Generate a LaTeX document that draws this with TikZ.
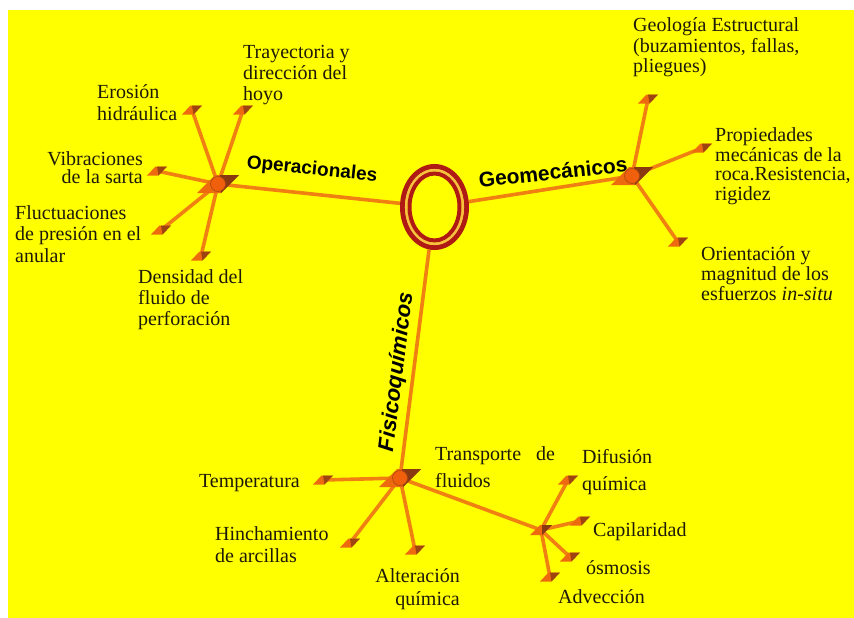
\documentclass[tikz,border=0pt]{standalone}
\usepackage{fontspec}
\setmainfont{Liberation Serif}
\newfontfamily\labfont{Liberation Sans}
\usetikzlibrary{shapes.geometric}
\definecolor{bgyellow}{HTML}{FFFF00}
\definecolor{connor}{HTML}{F08012}
\definecolor{hubor}{HTML}{EE6A0E}
\definecolor{hubdk}{HTML}{8A3A10}
\definecolor{ringred}{HTML}{B01A14}
\definecolor{ringlt}{HTML}{F6C040}
\definecolor{txt}{HTML}{1E1A0A}
\tikzset{
  conn/.style={draw=connor, line width=3.6pt},
  leaf/.style={inner sep=0pt, text=txt, font=\fontsize{20}{#1}\selectfont},
  leaf/.default=21,
  branch/.style={inner sep=0pt, text=black, font=\labfont\bfseries\fontsize{#1}{#1}\selectfont},
  hubpic/.pic={
    \fill[hubor] (-21,9) -- (-3,-9) -- (21,-9) -- (3,9) -- cycle;
    \fill[hubdk] (2,-9) -- (21,-9) -- (3,9) -- cycle;
    \fill[hubor!90!red, draw=hubdk!70!hubor, line width=0.6pt] (0,0) circle[radius=7.5pt];
  },
  subhubpic/.pic={
    \fill[hubor] (-11,5) -- (-1,-5) -- (11,-5) -- (1,5) -- cycle;
    \fill[hubdk] (1,-5) -- (11,-5) -- (1,5) -- cycle;
  },
  leafmark/.pic={
    \fill[hubor] (-10,4.5) -- (-1.5,-4.5) -- (10,-4.5) -- (1.5,4.5) -- cycle;
    \fill[hubdk!80!hubor] (0,-4.5) -- (10,-4.5) -- (1.5,4.5) -- cycle;
  }
}
\begin{document}
\begin{tikzpicture}[x=1pt,y=-1pt]
\useasboundingbox (0,0) rectangle (854,618);
\fill[white] (0,0) rectangle (854,618);
\fill[bgyellow] (8,10) rectangle (854,618);
% hubs
\coordinate (hO) at (218,184);
\coordinate (hG) at (632,176);
\coordinate (hF) at (400,478);
\coordinate (hT) at (541,530);
% leaf markers
\coordinate (ero) at (192,110);
\coordinate (tray) at (243,110);
\coordinate (vib) at (157,171);
\coordinate (fluc) at (161,230);
\coordinate (dens) at (201,256);
\coordinate (geol) at (648,99);
\coordinate (prop) at (702,148);
\coordinate (orie) at (678,242);
\coordinate (temp) at (323,480);
\coordinate (hinc) at (350,543);
\coordinate (alte) at (415,550);
\coordinate (difu) at (568,480);
\coordinate (capi) at (580,521);
\coordinate (osmo) at (570,557);
\coordinate (adve) at (550,577);
\node[ellipse, minimum width=69pt, minimum height=86pt, inner sep=0pt] (core) at (434.5,207) {};
% connectors
\draw[conn] (hO) -- (core);
\draw[conn] (hG) -- (core);
\draw[conn] (hF) -- (core);
\foreach \t in {ero,tray,vib,fluc,dens} \draw[conn] (hO) -- (\t);
\foreach \t in {geol,prop,orie} \draw[conn] (hG) -- (\t);
\foreach \t in {temp,hinc,alte,hT} \draw[conn] (hF) -- (\t);
\foreach \t in {difu,capi,osmo,adve} \draw[conn] (hT) -- (\t);
% central rings
\draw[ringred, line width=5pt] (core.center) ellipse [x radius=32pt, y radius=40.5pt];
\draw[ringlt, line width=2.5pt] (core.center) ellipse [x radius=28.3pt, y radius=36.8pt];
\draw[ringred, line width=4pt] (core.center) ellipse [x radius=25pt, y radius=33.5pt];
% branch labels
\node[branch=19, rotate=-6] (lblO) at (312,170) {Operacionales};
\node[branch=21, rotate=6] (lblG) at (553,172) {Geomecánicos};
\node[inner sep=0pt, text=black, font=\labfont\bfseries\itshape\fontsize{22}{22}\selectfont, rotate=83] (lblF) at (397,372) {Fisicoquímicos};
% hub shapes
\pic at (hO) {hubpic};
\pic at (hG) {hubpic};
\pic at (hF) {hubpic};
\pic at (hT) {subhubpic};
\foreach \t in {ero,tray,vib,fluc,dens,geol,prop,orie,temp,hinc,alte,difu,capi,osmo,adve} \pic at (\t) {leafmark};
% leaf texts (base anchor = baseline of the last line)
\node[leaf, anchor=base west, align=left] (tEro) at (97,120) {Erosión\\hidráulica};
\node[leaf, anchor=base west, align=left] (tTray) at (243,100) {Trayectoria y\\dirección del\\hoyo};
\node[leaf=17.5, anchor=base east, align=right] (tVib) at (143,183) {Vibraciones\\de la sarta};
\node[leaf=21.5, anchor=base west, align=left] (tFluc) at (15,262) {Fluctuaciones\\de presión en el\\anular};
\node[leaf, anchor=base west, align=left] (tDens) at (138,325) {Densidad del\\fluido de\\perforación};
\node[leaf=20.5, anchor=base west, align=left] (tGeol) at (633,73) {Geología Estructural\\(buzamientos, fallas,\\pliegues)};
\node[leaf=19.5, anchor=base west, align=left] (tProp) at (715,200) {Propiedades\\mecánicas de la\\roca.Resistencia,\\rigidez};
\node[leaf=20, anchor=base west, align=left] (tOrie) at (701,300) {Orientación y\\magnitud de los\\esfuerzos \textit{in-situ}};
\node[leaf, anchor=base east] (tTemp) at (300,487) {Temperatura};
\node[leaf=22, anchor=base west, align=left] (tHinc) at (215,562) {Hinchamiento\\de arcillas};
\node[leaf=23, anchor=base east, align=right] (tAlte) at (460,605) {Alteración\\química};
\node[leaf=27, anchor=base west, align=left] (tTran) at (435,487) {Transporte\hspace{0.75em}de\\fluidos};
\node[leaf=27, anchor=base west, align=left] (tDifu) at (582,490) {Difusión\\química};
\node[leaf, anchor=base west] (tCapi) at (593,536) {Capilaridad};
\node[leaf, anchor=base west] (tOsmo) at (586,574) {ósmosis};
\node[leaf, anchor=base west] (tAdve) at (558,603) {Advección};
\end{tikzpicture}
\end{document}
